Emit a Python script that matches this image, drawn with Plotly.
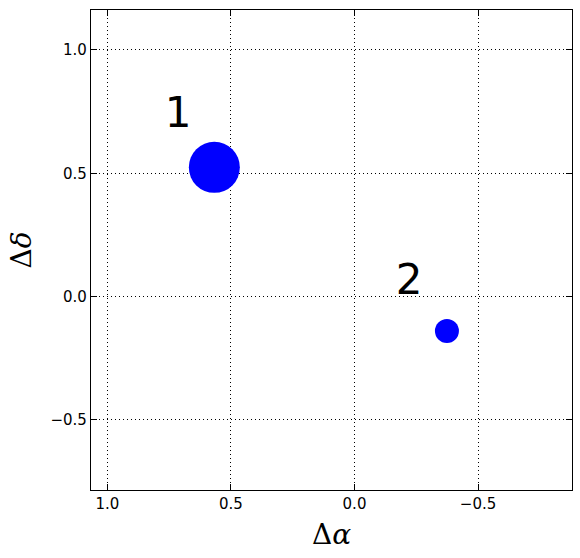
import plotly.graph_objects as go

# data
labels = ["1", "2"]
d_alpha = [0.567, -0.374]
d_delta = [0.524, -0.139]
marker_sizes = [51, 24]
label_x = [0.714, -0.221]
label_y = [0.732, 0.055]
x_ticks = [1.0, 0.5, 0.0, -0.5]
x_ticktext = ["1.0", "0.5", "0.0", "\u22120.5"]
y_ticks = [-0.5, 0.0, 0.5, 1.0]
y_ticktext = ["\u22120.5", "0.0", "0.5", "1.0"]

fig = go.Figure()
fig.add_trace(go.Scatter(
    x=d_alpha, y=d_delta, mode="markers",
    marker=dict(size=marker_sizes, color="#0000ff", opacity=1, line=dict(width=0)),
    showlegend=False, hoverinfo="skip"))
fig.add_trace(go.Scatter(
    x=label_x, y=label_y, mode="text", text=labels,
    textfont=dict(size=42, color="black", family="DejaVu Sans"),
    showlegend=False, hoverinfo="skip"))

axis_common = dict(
    showline=True, linecolor="black", linewidth=1.3, mirror="ticks",
    ticks="inside", ticklen=6, tickcolor="black", tickwidth=1,
    showgrid=True, gridcolor="black", gridwidth=1, griddash="1px,3px",
    zeroline=False, automargin=False,
    tickfont=dict(size=15, family="DejaVu Sans", color="black"),
)
fig.update_xaxes(range=[1.066, -0.880], tickvals=x_ticks, ticktext=x_ticktext,
                 title=dict(text="\u0394<i>\u03b1</i>", font=dict(size=28, family="DejaVu Serif", color="black"), standoff=12),
                 **axis_common)
fig.update_yaxes(range=[-0.784, 1.162], tickvals=y_ticks, ticktext=y_ticktext,
                 title=dict(text="\u0394<i>\u03b4</i>", font=dict(size=28, family="DejaVu Serif", color="black"), standoff=10),
                 **axis_common)
fig.update_layout(width=580, height=558, margin=dict(l=91, r=8, t=10, b=68),
                  plot_bgcolor="white", paper_bgcolor="white")
fig.write_html("out.html", config={"displayModeBar": False},
               post_script="document.body.style.margin='0';document.body.style.overflow='hidden';")
